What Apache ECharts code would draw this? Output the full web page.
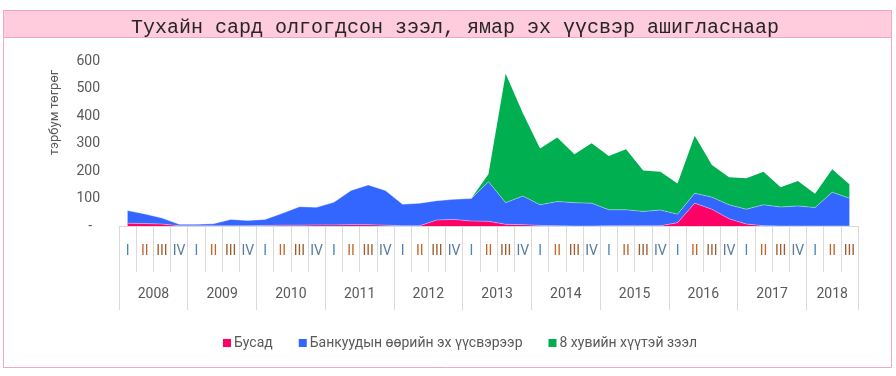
<!DOCTYPE html>
<html>
<head>
<meta charset="utf-8">
<script src="https://cdn.jsdelivr.net/npm/echarts@6/dist/echarts.min.js"></script>
<style>
html,body{margin:0;padding:0;background:#fff;}
#chart{width:896px;height:376px;}
</style>
</head>
<body>
<div id="chart"></div>
<script>
var titleText = 'Тухайн сард олгогдсон зээл, ямар эх үүсвэр ашигласнаар';
var yAxisName = 'тэрбум төгрөг';
var years = ['2008','2009','2010','2011','2012','2013','2014','2015','2016','2017','2018'];
var quartersPerYear = [4,4,4,4,4,4,4,4,4,4,3];
var quarterLabels = ['I','II','III','IV'];
var yTicks = [0,100,200,300,400,500,600];
var seriesNames = ['Бусад','Банкуудын өөрийн эх үүсвэрээр','8 хувийн хүүтэй зээл'];
var other = [10,9,7,1,1,1,1,1,2,3,3,4,4,5,5,3,1,1,22,24,18,17,6,5,2,1,0,0,1,1,1,1,12,83,61,26,7,1,0,0,0,0,0];
var ownFunds = [46,35,22,5,5,7,23,19,22,43,67,64,82,124,144,126,78,82,70,73,82,144,79,104,75,88,85,83,58,58,52,57,31,36,44,51,54,76,69,73,67,123,101];
var eightPct = [0,0,0,0,0,0,0,0,0,0,0,0,0,0,0,0,0,0,0,0,0,28,469,301,205,233,176,218,196,220,149,139,112,209,117,100,113,120,72,91,50,83,51];

var qCats = [], yCats = [], qIdx = [], yearLabelAt = {};
years.forEach(function(y, yi){
  var n = quartersPerYear[yi];
  for (var q = 0; q < n; q++) {
    qCats.push(quarterLabels[q]);
    yCats.push(y);
    qIdx.push(q);
  }
  var start = yCats.length - n;
  if (n % 2 === 0) yearLabelAt[start + n/2 - 1] = 'even';
  else yearLabelAt[start + (n-1)/2] = 'odd';
});

var colors = ['#FF0066','#3366FF','#00B050'];
var qColors = ['#4A86B8','#C0652B','#9E5B2E','#5A7BA0'];

var chart = echarts.init(document.getElementById('chart'));
var font = 'Roboto, "Liberation Sans", sans-serif';
chart.setOption({
  animation: false,
  backgroundColor: '#ffffff',
  graphic: [
    {type:'rect', shape:{x:3.5,y:10.5,width:888,height:357}, style:{fill:'none', stroke:'#F2A7C4', lineWidth:1}, z:-10},
    {type:'rect', shape:{x:3.5,y:10.5,width:888,height:27}, style:{fill:'#FFCCDD', stroke:'#F2A7C4', lineWidth:1}, z:-9}
  ],
  title: {
    text: titleText,
    left: 450, textAlign: 'center', top: 13,
    textStyle: {fontFamily: '"Liberation Mono", "DejaVu Sans Mono", monospace', fontSize: 20, fontWeight: 'normal', color: '#262626'}
  },
  legend: {
    data: seriesNames,
    left: 218, top: 331,
    icon: 'rect', itemWidth: 8, itemHeight: 8, itemGap: 26,
    textStyle: {fontFamily: font, fontSize: 14, color: '#595959', padding:[0,0,0,-2]}
  },
  grid: {left: 119, right: 38, top: 61, bottom: 150},
  xAxis: [
    {
      type: 'category', data: qCats, boundaryGap: true, position: 'bottom',
      axisLine: {show: true, lineStyle: {color: '#D9D9D9'}},
      axisTick: {show: true, interval: 0, length: 46, lineStyle: {color: '#D9D9D9'}},
      axisLabel: {
        interval: 0, margin: 18,
        formatter: function(v, i){ return '{q' + qIdx[i] + '|' + v + '}'; },
        rich: {
          q0: {color: qColors[0], fontSize: 14, fontFamily: font},
          q1: {color: qColors[1], fontSize: 14, fontFamily: font},
          q2: {color: qColors[2], fontSize: 14, fontFamily: font},
          q3: {color: qColors[3], fontSize: 14, fontFamily: font}
        }
      }
    },
    {
      type: 'category', data: yCats, boundaryGap: true, position: 'bottom',
      axisLine: {show: false},
      axisTick: {show: true, length: 84, lineStyle: {color: '#D9D9D9'},
        interval: function(i){ return i === 0 || yCats[i] !== yCats[i-1]; }},
      axisLabel: {
        margin: 61,
        interval: function(i){ return !!yearLabelAt[i]; },
        formatter: function(v, i){ return yearLabelAt[i] === 'even' ? '{e|' + v + '}' : '{o|' + v + '}'; },
        rich: {
          e: {padding: [0,0,0,17.2], fontSize: 14, color: '#595959', fontFamily: font},
          o: {fontSize: 14, color: '#595959', fontFamily: font}
        }
      }
    }
  ],
  yAxis: {
    type: 'value', min: yTicks[0], max: yTicks[yTicks.length-1], interval: 100,
    name: yAxisName, nameLocation: 'middle', nameGap: 58,
    nameTextStyle: {fontFamily: font, fontSize: 13, color: '#595959', padding: [0,0,0,62]},
    axisLine: {show: false}, axisTick: {show: false}, splitLine: {show: false},
    axisLabel: {
      margin: 19, fontFamily: font, fontSize: 14, color: '#595959',
      formatter: function(v){ return v === 0 ? '{d|-}' : String(v); },
      rich: {d: {padding: [0,8,0,0], fontSize: 14, color: '#595959', fontFamily: font}}
    }
  },
  series: [
    {name: seriesNames[0], type: 'line', stack: 'total', data: other, symbol: 'none',
     lineStyle: {width: 0.6, color: 'rgba(255,255,255,0.6)'}, itemStyle: {color: colors[0]},
     areaStyle: {color: colors[0], opacity: 1}},
    {name: seriesNames[1], type: 'line', stack: 'total', data: ownFunds, symbol: 'none',
     lineStyle: {width: 0.6, color: 'rgba(255,255,255,0.6)'}, itemStyle: {color: colors[1]},
     areaStyle: {color: colors[1], opacity: 1}},
    {name: seriesNames[2], type: 'line', stack: 'total', data: eightPct, symbol: 'none',
     lineStyle: {width: 0}, itemStyle: {color: colors[2]},
     areaStyle: {color: colors[2], opacity: 1}}
  ]
});
</script>
</body>
</html>
